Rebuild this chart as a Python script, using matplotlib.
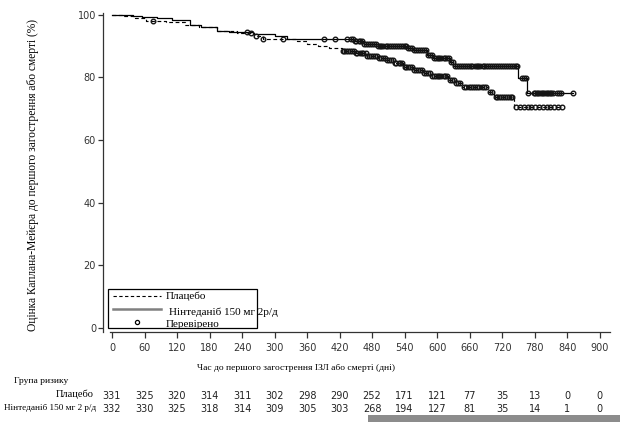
import numpy as np
import matplotlib
matplotlib.use("Agg")
import matplotlib.pyplot as plt
from matplotlib.lines import Line2D
from matplotlib.patches import Rectangle

# ---- data ----
pla_t = [0, 22, 42, 63, 100, 135, 160, 194, 230, 262, 279, 341, 360, 380, 400, 424, 450, 470,
         490, 505, 519, 537, 556, 574, 587, 620, 635, 646, 694, 705, 742, 830]
pla_s = [100, 99.5, 98.9, 98.2, 97.6, 96.9, 96.0, 94.8, 94.2, 93.4, 92.4, 91.6, 90.8, 90.0, 89.4,
         88.6, 87.8, 87.0, 86.2, 85.5, 84.6, 83.5, 82.4, 81.4, 80.5, 79.2, 78.2, 77.1, 75.5, 73.9,
         70.7, 70.7]
pla_cens = [75, 257, 265, 279, 316, 426, 429, 432, 436, 439, 443, 446, 450, 453, 457, 461, 464,
            468, 471, 475, 478, 482, 486, 489, 493, 496, 500, 504, 507, 511, 514, 518, 522, 525,
            529, 532, 536, 540, 543, 547, 550, 554, 558, 561, 565, 568, 572, 576, 579, 583, 586,
            590, 594, 597, 601, 604, 608, 612, 615, 619, 623, 627, 631, 635, 639, 642, 650, 654,
            658, 662, 666, 670, 674, 678, 682, 686, 690, 697, 701, 708, 711, 715, 718, 722, 725,
            729, 732, 736, 739, 746, 753, 760, 767, 774, 781, 788, 795, 802, 809, 816, 823, 830]

nin_t = [0, 38, 55, 83, 110, 144, 165, 194, 215, 260, 300, 323, 445, 465, 490, 544, 556, 581,
         593, 624, 630, 750, 766, 851]
nin_s = [100, 99.5, 99.2, 98.9, 98.3, 96.8, 96.2, 95.0, 94.6, 94.0, 93.2, 92.4, 91.6, 90.8, 90.2,
         89.5, 88.8, 87.2, 86.3, 85.0, 83.7, 79.9, 75.2, 75.2]
nin_cens = [250, 391, 412, 434, 441, 444, 448, 451, 455, 458, 462, 465, 469, 473, 476, 480, 483,
            487, 490, 494, 497, 501, 505, 508, 512, 515, 519, 522, 526, 530, 533, 537, 540, 543,
            547, 550, 554, 558, 561, 565, 568, 572, 576, 579, 583, 586, 590, 594, 597, 601, 604,
            608, 612, 615, 619, 622, 626, 629, 633, 637, 640, 644, 647, 651, 655, 658, 662, 665,
            669, 673, 676, 680, 684, 687, 691, 694, 698, 702, 705, 709, 712, 716, 720, 723, 727,
            730, 734, 738, 741, 745, 748, 756, 760, 764, 768, 778, 781, 784, 787, 790, 793, 796,
            799, 802, 805, 808, 811, 814, 822, 825, 828, 851]

x_ticks = list(range(0, 901, 60))
y_ticks = [0, 20, 40, 60, 80, 100]
risk_pla = [331, 325, 320, 314, 311, 302, 298, 290, 252, 171, 121, 77, 35, 13, 0, 0]
risk_nin = [332, 330, 325, 318, 314, 309, 305, 303, 268, 194, 127, 81, 35, 14, 1, 0]

label_pla = "Плацебо"
label_nin = "Нінтеданіб 150 мг 2р/д"
label_cens = "Перевірено"
row_pla = "Плацебо"
row_nin = "Нінтеданіб 150 мг 2 р/д"
risk_title = "Група ризику"
xlabel = "Час до першого загострення ІЗЛ або смерті (дні)"
ylabel = "Оцінка Каплана-Мейєра до першого загострення або смерті (%)"

SERIF = "Liberation Serif"
SANS = "DejaVu Sans"

def step_val(times, surv, t):
    idx = np.searchsorted(np.asarray(times), t, side="right") - 1
    return np.asarray(surv)[np.clip(idx, 0, len(surv) - 1)]

fig = plt.figure(figsize=(6.2, 4.22), dpi=100)
ax = fig.add_axes([103 / 620, 1 - 332 / 422, 507 / 620, 319 / 422])

ax.step(pla_t, pla_s, where="post", color="black", lw=0.85, ls=(0, (3.2, 2.2)))
ax.step(nin_t, nin_s, where="post", color="black", lw=0.9)
ax.plot(pla_cens, step_val(pla_t, pla_s, pla_cens), ls="none", marker="o", ms=3.3,
        mfc="none", mec="#151515", mew=1.0)
ax.plot(nin_cens, step_val(nin_t, nin_s, nin_cens), ls="none", marker="o", ms=3.3,
        mfc="none", mec="#151515", mew=1.0)

ax.set_xlim(-16.6, 919)
ax.set_ylim(-1.3, 100.6)
ax.set_xticks(x_ticks)
ax.set_yticks(y_ticks)
ax.spines["top"].set_visible(False)
ax.spines["right"].set_visible(False)
ax.spines["bottom"].set_bounds(-4, 919)
for sp in ("left", "bottom"):
    ax.spines[sp].set_linewidth(0.9)
    ax.spines[sp].set_color("#333333")
ax.tick_params(axis="x", direction="out", length=4, width=0.9, pad=4, labelsize=7,
               colors="#333333")
ax.tick_params(axis="y", direction="out", length=3.5, width=0.9, pad=1.5, labelsize=7,
               colors="#333333")
for lab in ax.get_xticklabels() + ax.get_yticklabels():
    lab.set_fontfamily(SANS)

# legend (manual box)
ax.add_patch(Rectangle((0.0099, 0.0125), 0.294, 0.1225, transform=ax.transAxes,
                       fill=False, ec="black", lw=0.9, clip_on=False))
ax.add_line(Line2D([0.0197, 0.114], [0.113, 0.113], transform=ax.transAxes, color="black",
                   lw=0.8, ls=(0, (3, 2.2))))
ax.add_line(Line2D([0.0197, 0.114], [0.072, 0.072], transform=ax.transAxes, color="#808080",
                   lw=1.8))
ax.plot([0.067], [0.031], transform=ax.transAxes, marker="o", ms=3.0, mfc="none",
        mec="black", mew=0.9, ls="none")
ax.text(0.124, 0.113, label_pla, transform=ax.transAxes, fontsize=8, family=SERIF,
        va="center", ha="left")
ax.text(0.130, 0.063, label_nin, transform=ax.transAxes, fontsize=8, family=SERIF,
        va="center", ha="left")
ax.text(0.124, 0.025, label_cens, transform=ax.transAxes, fontsize=8, family=SERIF,
        va="center", ha="left")

# axis titles
fig.text(296 / 620, 1 - 368 / 422, xlabel, fontsize=6.8, family=SERIF, ha="center",
         va="center")
fig.text(33 / 620, 1 - 175 / 422, ylabel, fontsize=8.3, family=SERIF, ha="center",
         va="center", rotation=90)

# risk table
fig.text(14 / 620, 1 - 381 / 422, risk_title, fontsize=6.8, family=SERIF, ha="left",
         va="center")
fig.text(94 / 620, 1 - 394 / 422, row_pla, fontsize=7.5, family=SERIF, ha="right",
         va="center")
fig.text(96 / 620, 1 - 408 / 422, row_nin, fontsize=6.6, family=SERIF, ha="right",
         va="center")
for xv, a, b in zip(x_ticks, risk_pla, risk_nin):
    xf = ax.transData.transform((xv, 0))[0] / fig.bbox.width
    fig.text(xf, 1 - 396 / 422, str(a), fontsize=7, family=SANS, ha="center", va="center",
             color="#222222")
    fig.text(xf, 1 - 409 / 422, str(b), fontsize=7, family=SANS, ha="center", va="center",
             color="#222222")

# scanning artifact bar at bottom
fig.patches.append(Rectangle((368 / 620, 0), 252 / 620, 7 / 422, transform=fig.transFigure,
                             color="#8c8c8c", lw=0))

fig.savefig("out.png", dpi=100)
